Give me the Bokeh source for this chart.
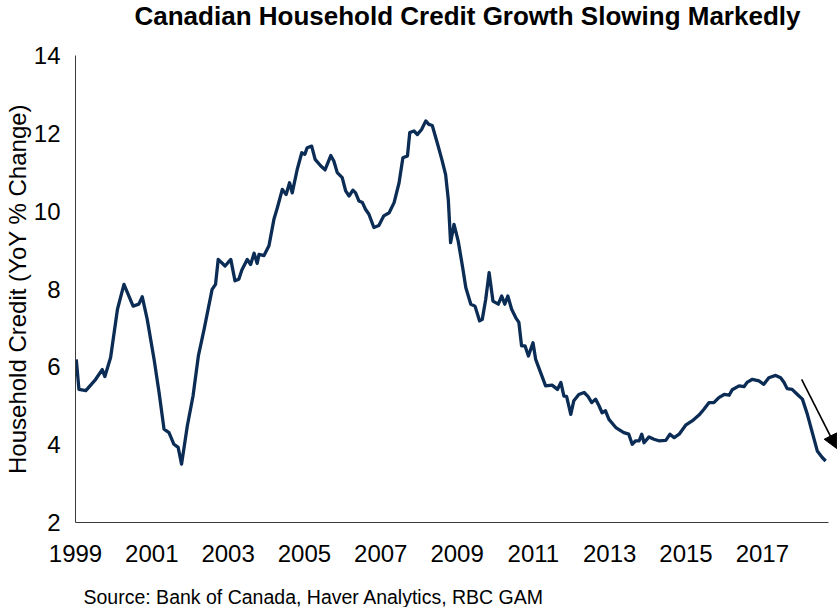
from bokeh.plotting import figure
from bokeh.models import Range1d, FixedTicker, Arrow, NormalHead, LinearAxis, Title
from bokeh.embed import file_html
from bokeh.resources import INLINE

# Decimal year of each reading and household credit growth (YoY %)
dates = [1999.02, 1999.09, 1999.27, 1999.53, 1999.70, 1999.77, 1999.92, 2000.10, 2000.27, 2000.51,
         2000.66, 2000.75, 2000.88, 2001.06, 2001.19, 2001.32, 2001.45, 2001.58, 2001.69, 2001.78,
         2001.93, 2002.08, 2002.22, 2002.37, 2002.58, 2002.67, 2002.74, 2002.92, 2003.07, 2003.18,
         2003.28, 2003.36, 2003.50, 2003.59, 2003.68, 2003.76, 2003.81, 2003.94, 2004.07, 2004.20,
         2004.29, 2004.42, 2004.52, 2004.61, 2004.68, 2004.81, 2004.93, 2005.01, 2005.07, 2005.19,
         2005.28, 2005.43, 2005.54, 2005.69, 2005.77, 2005.86, 2005.99, 2006.08, 2006.17, 2006.27,
         2006.34, 2006.43, 2006.52, 2006.60, 2006.69, 2006.82, 2006.95, 2007.08, 2007.22, 2007.35,
         2007.48, 2007.58, 2007.70, 2007.76, 2007.87, 2007.96, 2008.07, 2008.18, 2008.26, 2008.35,
         2008.48, 2008.60, 2008.70, 2008.77, 2008.83, 2008.92, 2009.03, 2009.14, 2009.23, 2009.36,
         2009.47, 2009.59, 2009.66, 2009.75, 2009.84, 2009.94, 2010.08, 2010.17, 2010.25, 2010.33,
         2010.43, 2010.54, 2010.62, 2010.69, 2010.78, 2010.87, 2010.93, 2010.99, 2011.06, 2011.19,
         2011.32, 2011.49, 2011.63, 2011.72, 2011.80, 2011.87, 2011.98, 2012.06, 2012.19, 2012.33,
         2012.43, 2012.53, 2012.63, 2012.72, 2012.80, 2012.89, 2012.98, 2013.16, 2013.37, 2013.50,
         2013.59, 2013.68, 2013.77, 2013.84, 2013.90, 2014.03, 2014.16, 2014.29, 2014.47, 2014.58,
         2014.69, 2014.82, 2014.99, 2015.16, 2015.34, 2015.47, 2015.60, 2015.73, 2015.86, 2016.00,
         2016.13, 2016.21, 2016.39, 2016.52, 2016.60, 2016.74, 2016.91, 2017.04, 2017.17, 2017.35,
         2017.48, 2017.57, 2017.65, 2017.78, 2017.92, 2018.05, 2018.18, 2018.31, 2018.44, 2018.57,
         2018.66]
credit_growth = [6.19, 5.42, 5.39, 5.68, 5.93, 5.75, 6.24, 7.48, 8.12, 7.56,
                 7.61, 7.80, 7.22, 6.19, 5.34, 4.40, 4.31, 4.01, 3.93, 3.50,
                 4.48, 5.25, 6.28, 6.96, 7.99, 8.12, 8.76, 8.59, 8.76, 8.21,
                 8.25, 8.49, 8.76, 8.63, 8.92, 8.66, 8.89, 8.86, 9.11, 9.79,
                 10.09, 10.56, 10.43, 10.73, 10.47, 11.07, 11.50, 11.46, 11.63, 11.67,
                 11.33, 11.16, 11.06, 11.43, 11.29, 10.99, 10.86, 10.52, 10.39, 10.54,
                 10.47, 10.26, 10.22, 10.05, 9.92, 9.58, 9.63, 9.88, 9.96, 10.22,
                 10.73, 11.37, 11.42, 12.02, 12.06, 11.97, 12.10, 12.32, 12.23, 12.20,
                 11.76, 11.33, 10.94, 10.30, 9.19, 9.66, 9.23, 8.59, 8.03, 7.61,
                 7.56, 7.18, 7.22, 7.73, 8.42, 7.69, 7.61, 7.82, 7.61, 7.82,
                 7.48, 7.26, 7.14, 6.54, 6.54, 6.28, 6.45, 6.62, 6.19, 5.85,
                 5.51, 5.53, 5.42, 5.60, 5.25, 5.24, 4.78, 5.13, 5.29, 5.34,
                 5.24, 5.08, 5.17, 5.00, 4.82, 4.87, 4.65, 4.44, 4.31, 4.27,
                 4.01, 4.10, 4.10, 4.27, 4.05, 4.20, 4.14, 4.10, 4.11, 4.27,
                 4.18, 4.27, 4.50, 4.61, 4.76, 4.91, 5.08, 5.08, 5.21, 5.29,
                 5.27, 5.41, 5.51, 5.49, 5.60, 5.68, 5.64, 5.55, 5.72, 5.78,
                 5.72, 5.60, 5.44, 5.42, 5.29, 5.17, 4.78, 4.31, 3.84, 3.67,
                 3.58]

x_ticks = [1999, 2001, 2003, 2005, 2007, 2009, 2011, 2013, 2015, 2017]
x_tick_labels = ["1999", "2001", "2003", "2005", "2007", "2009", "2011", "2013", "2015", "2017"]
y_ticks = [2, 4, 6, 8, 10, 12, 14]

# trend arrow (start / end, data units)
arrow_start = (2018.03, 5.68)
arrow_end = (2018.95, 3.90)

title_text = "Canadian Household Credit Growth Slowing Markedly"
y_label_text = "Household Credit (YoY % Change)"
source_text = "Source: Bank of Canada, Haver Analytics, RBC GAM"

FONT = "Liberation Sans"

p = figure(frame_width=762, frame_height=467, output_backend="svg", toolbar_location=None,
           x_range=Range1d(1999, 2018.97), y_range=Range1d(2, 14),
           min_border_left=70, min_border_right=0, min_border_top=55, min_border_bottom=82)
p.background_fill_color = "white"
p.border_fill_color = "white"
p.outline_line_color = None
p.xgrid.visible = False
p.ygrid.visible = False

p.line(dates, credit_growth, line_color="#0B2C55", line_width=3.3, line_join="round")

for ax in (p.xaxis[0], p.yaxis[0]):
    ax.axis_line_color = "#3a3a3a"
    ax.axis_line_width = 1
    ax.major_tick_line_color = None
    ax.minor_tick_line_color = None
    ax.major_tick_out = 0
    ax.minor_tick_out = 0
    ax.major_label_text_font = FONT
    ax.major_label_text_font_size = "24px"
    ax.major_label_text_color = "black"

p.xaxis.ticker = FixedTicker(ticks=x_ticks)
p.xaxis.major_label_overrides = {t: l for t, l in zip(x_ticks, x_tick_labels)}
p.xaxis.major_label_standoff = 22
p.xaxis.bounds = (1999, 2018.74)

p.yaxis.ticker = FixedTicker(ticks=y_ticks)
p.yaxis.major_label_standoff = 15
p.yaxis.axis_label = y_label_text
p.yaxis.axis_label_text_font = FONT
p.yaxis.axis_label_text_font_size = "24px"
p.yaxis.axis_label_text_font_style = "normal"
p.yaxis.axis_label_text_color = "black"
p.yaxis.axis_label_standoff = 0


def gap(size):
    """An invisible axis (hidden line, tick and label) used only as spacing in a side panel."""
    mid = x_ticks[len(x_ticks) // 2]
    return LinearAxis(ticker=FixedTicker(ticks=[mid]), major_label_overrides={mid: ""},
                      axis_line_color=None, major_tick_line_color=None,
                      minor_tick_line_color=None, major_tick_out=size, minor_tick_out=0,
                      major_tick_in=0, minor_tick_in=0, major_label_standoff=0,
                      major_label_text_font_size="1px", major_label_text_color=None)


# title: lifted to the top of the canvas by a spacer between it and the frame
p.add_layout(gap(23), "above")
p.add_layout(Title(text=title_text, align="left", offset=59, standoff=0, vertical_align="top",
                   text_font=FONT, text_font_style="bold", text_font_size="26px",
                   text_color="black"), "above")

# source note under the year labels
p.add_layout(gap(19), "below")
p.add_layout(Title(text=source_text, align="left", offset=8, standoff=0, vertical_align="bottom",
                   text_font=FONT, text_font_style="normal", text_font_size="19.5px",
                   text_color="black"), "below")

p.add_layout(Arrow(end=NormalHead(size=14, fill_color="black", line_color="black"),
                   x_start=arrow_start[0], y_start=arrow_start[1],
                   x_end=arrow_end[0], y_end=arrow_end[1],
                   line_color="black", line_width=1.6))

open("out.html", "w").write(file_html(p, INLINE))
